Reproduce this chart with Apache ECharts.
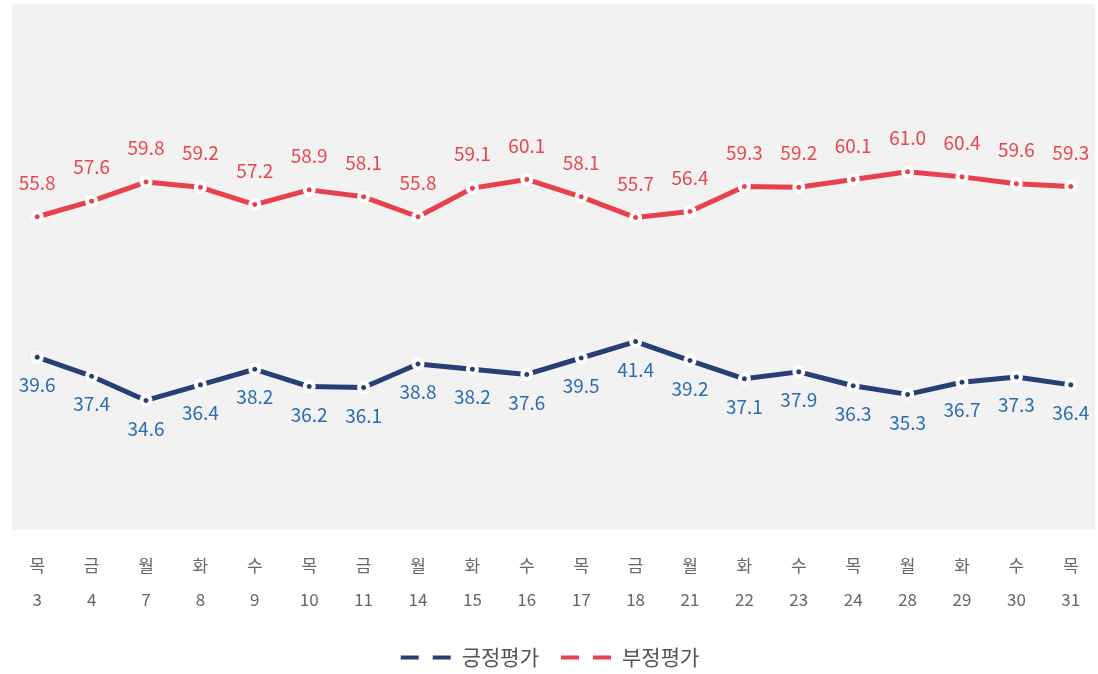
<!DOCTYPE html>
<html><head><meta charset="utf-8">
<script src="https://cdn.jsdelivr.net/npm/echarts@6/dist/echarts.min.js"></script>
<style>html,body{margin:0;padding:0;background:#fff}#c{width:1098px;height:674px}</style>
</head><body><div id="c"></div>
<script>
const days = ['목','금','월','화','수','목','금','월','화','수','목','금','월','화','수','목','월','화','수','목'];
const dates = ['3','4','7','8','9','10','11','14','15','16','17','18','21','22','23','24','28','29','30','31'];
const positive = [39.6,37.4,34.6,36.4,38.2,36.2,36.1,38.8,38.2,37.6,39.5,41.4,39.2,37.1,37.9,36.3,35.3,36.7,37.3,36.4];
const negative = [55.8,57.6,59.8,59.2,57.2,58.9,58.1,55.8,59.1,60.1,58.1,55.7,56.4,59.3,59.2,60.1,61.0,60.4,59.6,59.3];
const seriesNames = ['긍정평가','부정평가'];

const categories = days.map((d,i)=>d+'\n'+dates[i]);
const chart = echarts.init(document.getElementById('c'));
const font = '"Noto Sans CJK KR", "Noto Sans", sans-serif';
const icon = 'path://M0,0H20V6H0Z M32,0H52V6H32Z';
chart.setOption({
  animation:false,
  textStyle:{fontFamily:font},
  graphic:[{type:'rect',z:-10,silent:true,shape:{x:12,y:4,width:1083,height:526},style:{fill:'#f2f2f2'}}],
  grid:{left:10,top:7,width:1092,height:520},
  xAxis:{type:'category',data:categories,boundaryGap:true,
    axisLine:{show:false},axisTick:{show:false},splitLine:{show:false},
    axisLabel:{margin:22,color:'#666',fontSize:17,lineHeight:34,fontFamily:font}},
  yAxis:{type:'value',min:20,max:80,show:false,splitLine:{show:false}},
  legend:{bottom:1,left:'center',itemWidth:52,itemHeight:6,itemGap:20,
    textStyle:{fontSize:21,color:'#555',fontFamily:font,padding:[0,0,0,5]},
    data:[{name:seriesNames[0],icon:icon},{name:seriesNames[1],icon:icon}]},
  series:[
    {name:seriesNames[0],type:'line',data:positive,color:'#283f73',
     lineStyle:{width:5,color:'#283f73'},symbol:'circle',symbolSize:9,
     itemStyle:{color:'#283f73',borderColor:'#fff',borderWidth:4},
     label:{show:true,position:'bottom',distance:12,color:'#2a6cb3',fontSize:19,fontFamily:font,formatter:p=>p.value.toFixed(1)}},
    {name:seriesNames[1],type:'line',data:negative,color:'#e8414e',
     lineStyle:{width:5,color:'#e8414e'},symbol:'circle',symbolSize:9,
     itemStyle:{color:'#e8414e',borderColor:'#fff',borderWidth:4},
     label:{show:true,position:'top',distance:18,color:'#e8474f',fontSize:19,fontFamily:font,formatter:p=>p.value.toFixed(1)}}
  ]
});
</script></body></html>
